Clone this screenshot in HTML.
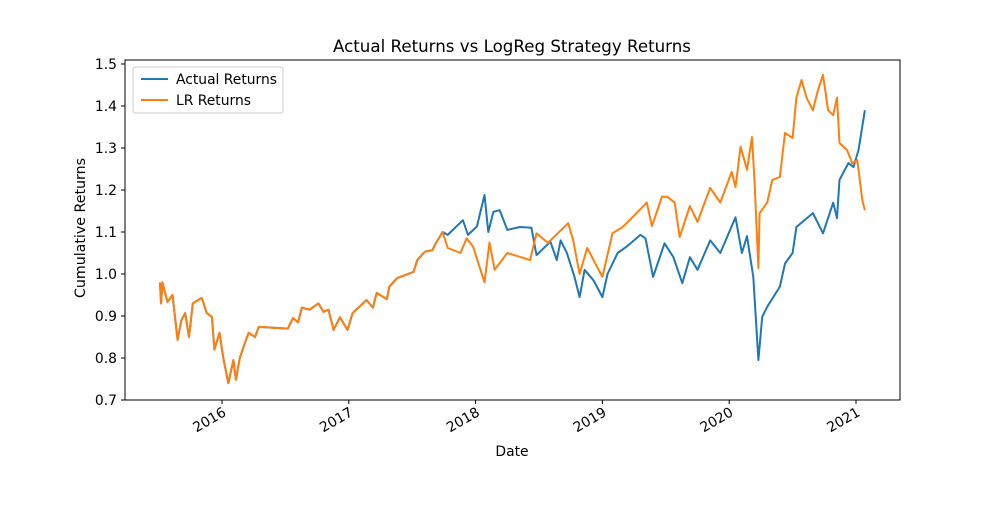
<!DOCTYPE html>
<html><head><meta charset="utf-8"><style>
body{margin:0;background:#fff;}
svg text{font-family:"DejaVu Sans","Liberation Sans",sans-serif;fill:#000;}
</style></head><body>
<svg id="chart" width="1000" height="500" viewBox="0 0 1000 500" xmlns="http://www.w3.org/2000/svg">
<rect width="1000" height="500" fill="#fff"/>
<text x="512" y="52" font-size="16.7" text-anchor="middle" textLength="358" lengthAdjust="spacingAndGlyphs">Actual Returns vs LogReg Strategy Returns</text>
<g id="plot"></g>
<rect x="125" y="60" width="775" height="340" fill="none" stroke="#000" stroke-width="1"/>
<text x="512" y="456" font-size="13.9" text-anchor="middle">Date</text>
<text transform="translate(85,228) rotate(-90)" font-size="13.9" text-anchor="middle" textLength="140" lengthAdjust="spacingAndGlyphs">Cumulative Returns</text>
<g>
<rect x="133" y="67" width="150" height="46" rx="3" fill="#fff" fill-opacity="0.8" stroke="#ccc"/>
<line x1="141" y1="79" x2="168" y2="79" stroke="#1f77b4" stroke-width="2"/>
<text x="176" y="84" font-size="13.9" textLength="101" lengthAdjust="spacingAndGlyphs">Actual Returns</text>
<line x1="141" y1="100" x2="168" y2="100" stroke="#ff7f0e" stroke-width="2"/>
<text x="176" y="105" font-size="13.9" textLength="75" lengthAdjust="spacingAndGlyphs">LR Returns</text>
</g>
</svg>
<script>
const sharedDates=[2015.51,2015.52,2015.53,2015.57,2015.61,2015.65,2015.68,2015.71,2015.74,2015.77,2015.84,2015.88,2015.92,2015.94,2015.98,2016.01,2016.05,2016.09,2016.11,2016.14,2016.18,2016.21,2016.26,2016.29,2016.52,2016.56,2016.60,2016.63,2016.69,2016.76,2016.80,2016.84,2016.88,2016.93,2016.99,2017.03,2017.14,2017.19,2017.22,2017.30,2017.32,2017.38,2017.51,2017.54,2017.60,2017.66,2017.68,2017.74];
const sharedValues=[0.98,0.93,0.98,0.933,0.95,0.843,0.89,0.907,0.85,0.93,0.943,0.907,0.898,0.82,0.86,0.80,0.74,0.795,0.748,0.80,0.835,0.86,0.85,0.874,0.87,0.895,0.885,0.92,0.915,0.93,0.91,0.915,0.867,0.897,0.867,0.907,0.938,0.92,0.955,0.94,0.97,0.99,1.005,1.033,1.053,1.057,1.07,1.10];
const actualDates=[2017.78,2017.90,2017.94,2018.01,2018.07,2018.10,2018.14,2018.19,2018.25,2018.35,2018.44,2018.48,2018.59,2018.64,2018.67,2018.72,2018.78,2018.82,2018.86,2018.93,2019.00,2019.04,2019.12,2019.19,2019.30,2019.34,2019.40,2019.49,2019.56,2019.63,2019.69,2019.75,2019.85,2019.93,2020.05,2020.10,2020.14,2020.19,2020.23,2020.26,2020.30,2020.40,2020.44,2020.50,2020.53,2020.66,2020.74,2020.82,2020.85,2020.87,2020.94,2020.98,2021.02,2021.07];
const actualValues=[1.093,1.128,1.093,1.113,1.188,1.10,1.148,1.152,1.105,1.112,1.11,1.045,1.077,1.033,1.08,1.05,0.993,0.945,1.01,0.985,0.945,1.0,1.05,1.065,1.093,1.085,0.993,1.073,1.04,0.978,1.04,1.01,1.08,1.05,1.135,1.05,1.09,0.993,0.795,0.898,0.922,0.97,1.025,1.05,1.112,1.145,1.097,1.17,1.133,1.224,1.264,1.255,1.295,1.39];
const lrDates=[2017.78,2017.88,2017.93,2017.98,2018.07,2018.11,2018.15,2018.25,2018.43,2018.48,2018.57,2018.73,2018.77,2018.82,2018.88,2019.00,2019.08,2019.16,2019.24,2019.35,2019.39,2019.47,2019.51,2019.57,2019.61,2019.69,2019.75,2019.85,2019.93,2020.02,2020.05,2020.09,2020.14,2020.18,2020.20,2020.23,2020.24,2020.30,2020.34,2020.40,2020.44,2020.50,2020.53,2020.57,2020.61,2020.66,2020.70,2020.74,2020.78,2020.82,2020.85,2020.87,2020.93,2020.97,2021.01,2021.05,2021.07];
const lrValues=[1.062,1.05,1.085,1.065,0.98,1.075,1.01,1.05,1.033,1.097,1.074,1.121,1.08,1.0,1.062,0.993,1.097,1.112,1.136,1.17,1.114,1.184,1.184,1.17,1.088,1.162,1.124,1.205,1.17,1.243,1.207,1.303,1.248,1.326,1.217,1.014,1.145,1.17,1.224,1.231,1.336,1.324,1.42,1.462,1.42,1.39,1.438,1.474,1.39,1.378,1.42,1.312,1.295,1.264,1.271,1.176,1.152];
const yTicks=[0.7,0.8,0.9,1.0,1.1,1.2,1.3,1.4,1.5];
const xTicks=[2016,2017,2018,2019,2020,2021];

const NS="http://www.w3.org/2000/svg";
const xs=d=>222+(d-2016)*126.8;
const ys=v=>400-(v-0.7)*420;
const svg=document.getElementById('chart');
const plot=document.getElementById('plot');
function mk(t,a,parent){const e=document.createElementNS(NS,t);for(const k in a)e.setAttribute(k,a[k]);(parent||svg).appendChild(e);return e;}
yTicks.forEach(v=>{
  const l=mk('line',{x1:121,x2:125,y1:ys(v),y2:ys(v),stroke:'#000'});
  
  
  const t=mk('text',{x:117,y:ys(v)+5,'font-size':13.9,'text-anchor':'end'});
  
  
  t.textContent=v.toFixed(1);
});
xTicks.forEach(d=>{
  const l=mk('line',{x1:xs(d),x2:xs(d),y1:400,y2:404,stroke:'#000'});
  
  
  const t=mk('text',{transform:`translate(${xs(d)+5},${415}) rotate(-30)`,'font-size':13.9,'text-anchor':'end'});
  
  
  t.textContent=d;
});
function path(dates,vals,color,name){
  const d=dates.map((x,i)=>(i?'L':'M')+xs(x).toFixed(1)+','+ys(vals[i]).toFixed(1)).join('');
  const p=mk('path',{d:d,fill:'none',stroke:color,'stroke-width':2,'stroke-linejoin':'round'},plot);
  
  
}
path(sharedDates.concat(actualDates),sharedValues.concat(actualValues),'#1f77b4','actual-returns-line');
path(sharedDates.concat(lrDates),sharedValues.concat(lrValues),'#ff7f0e','lr-returns-line');
</script>
</body></html>
